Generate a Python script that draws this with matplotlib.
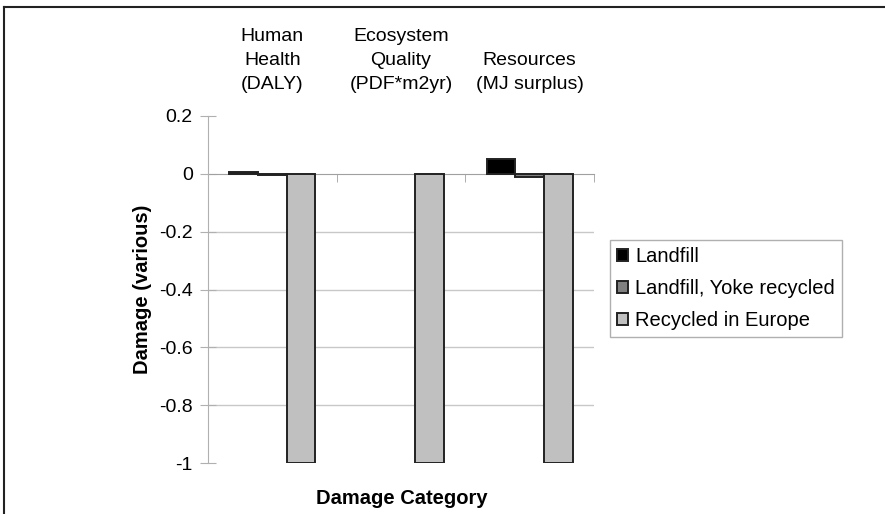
import numpy as np
import matplotlib
matplotlib.use("Agg")
import matplotlib.pyplot as plt
from matplotlib.lines import Line2D

plt.rcParams['font.family'] = ['Liberation Sans', 'DejaVu Sans']

# Data
categories = ["Human\nHealth\n(DALY)", "Ecosystem\nQuality\n(PDF*m2yr)", "Resources\n(MJ surplus)"]
series = ["Landfill", "Landfill, Yoke recycled", "Recycled in Europe"]
landfill = [0.006, 0.0, 0.05]
landfill_yoke = [-0.004, 0.0, -0.012]
recycled_europe = [-1.0, -1.0, -1.0]
colors = ["#000000", "#808080", "#c0c0c0"]

values = [landfill, landfill_yoke, recycled_europe]

fig = plt.figure(figsize=(8.85, 5.14), dpi=100)
ax = fig.add_axes([208/885, 1 - 463/514, (594 - 208)/885, (463 - 116)/514])

x = np.arange(len(categories))
w = 1 / 4.5  # gap width 150%
for i, (name, vals, c) in enumerate(zip(series, values, colors)):
    lws = [1.4 if v != 0 else 0 for v in vals]
    ax.bar(x + (i - 1) * w, vals, w, color=c, edgecolor="#222222",
           linewidth=lws, label=name, zorder=3)

ax.set_xlim(-0.5, len(categories) - 0.5)
ax.set_ylim(-1, 0.2)
ax.set_yticks([0.2, 0, -0.2, -0.4, -0.6, -0.8, -1])
ax.set_yticklabels(["0.2", "0", "-0.2", "-0.4", "-0.6", "-0.8", "-1"])

# gridlines (not at top/bottom)
for yv in [-0.2, -0.4, -0.6, -0.8]:
    ax.axhline(yv, color="#c8c8c8", linewidth=1, zorder=1)

for s in ["top", "right"]:
    ax.spines[s].set_visible(False)
ax.spines["left"].set_color("#b0b0b0")
ax.spines["bottom"].set_position(("data", 0))
ax.spines["bottom"].set_color("#a0a0a0")
ax.spines["bottom"].set_zorder(2)

# category labels at top, boundary ticks on the zero line
ax.set_xticks(x)
ax.set_xticklabels(categories, linespacing=1.56)
ax.set_xticks(np.arange(len(categories)) + 0.5, minor=True)
ax.tick_params(axis="x", which="major", bottom=False, top=False,
               labelbottom=False, labeltop=True, pad=13, labelsize=14)
ax.tick_params(axis="x", which="minor", bottom=True, top=False,
               direction="out", length=6, color="#a0a0a0")
ax.tick_params(axis="y", direction="inout", length=12, color="#b0b0b0",
               labelsize=14, pad=5)

ax.set_ylabel("Damage (various)", fontsize=14.5, fontweight="bold", labelpad=5)
fig.text(402/885, 1 - 498/514, "Damage Category", ha="center", va="center",
         fontsize=14.5, fontweight="bold")

leg = fig.legend(loc="upper left", bbox_to_anchor=(610/885, 1 - 240/514),
                 fontsize=14.5, frameon=True, fancybox=False, framealpha=1,
                 edgecolor="#b0b0b0", handlelength=0.55, handleheight=0.55,
                 handletextpad=0.35, labelspacing=0.65, borderpad=0.35,
                 borderaxespad=0)
leg.get_frame().set_linewidth(1)

# outer frame (top and left)
fig.add_artist(Line2D([4/885, 1], [1 - 7/514, 1 - 7/514], color="#222222", linewidth=1.5))
fig.add_artist(Line2D([4/885, 4/885], [0, 1 - 7/514], color="#222222", linewidth=1.5))

fig.savefig("out.png", dpi=100)
